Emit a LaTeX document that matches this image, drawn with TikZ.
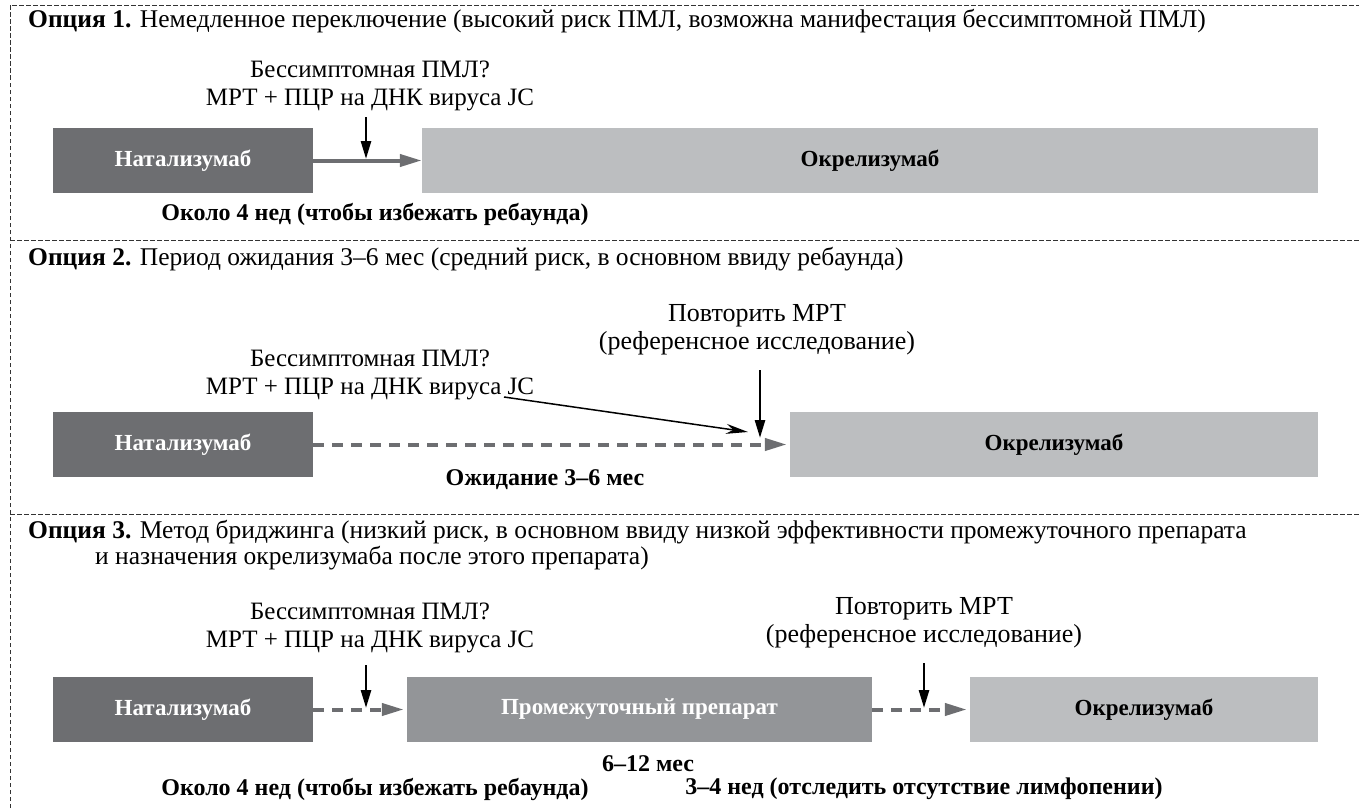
\documentclass[tikz,border=0pt]{standalone}
\usepackage{fontspec}
\setmainfont{Liberation Serif}
\usetikzlibrary{arrows.meta}
\definecolor{dkbox}{HTML}{6D6E71}
\definecolor{mdbox}{HTML}{939598}
\definecolor{ltbox}{HTML}{BCBEC0}
\tikzset{
  frameline/.style={line width=0.9pt, black!80, dash pattern=on 4.5pt off 2.5pt},
  drugbox/.style={rectangle, draw=none, inner sep=0pt, minimum height=65pt,
    font=\fontsize{23}{28}\selectfont\bfseries},
  darkbox/.style={drugbox, fill=dkbox, text=white},
  midbox/.style={drugbox, fill=mdbox, text=white},
  lightbox/.style={drugbox, fill=ltbox, text=black},
  lbl/.style={inner sep=0pt, align=center, font=\fontsize{25}{28}\selectfont},
  rlbl/.style={inner sep=0pt, align=center, font=\fontsize{26}{28}\selectfont},
  blbl/.style={inner sep=0pt, font=\fontsize{24}{28}\selectfont\bfseries},
  ttl/.style={inner sep=0pt, anchor=base west, font=\fontsize{25.5}{28}\selectfont},
  solidgo/.style={line width=4pt, dkbox, -{Triangle[length=22pt,width=12pt]}},
  dashgo/.style={line width=4pt, dkbox, dash pattern=on 11pt off 8pt, -{Triangle[length=22pt,width=12pt]}, shorten >=3pt},
  downarr/.style={line width=2.6pt, black, -{Triangle[length=18pt,width=10pt]}},
  thinarr/.style={line width=1.5pt, black, -{Stealth[length=22pt,width=10pt]}},
}
\begin{document}
\begin{tikzpicture}[x=1pt,y=-1pt]
\useasboundingbox (0,0) rectangle (1359,808);
% frame
\draw[frameline] (10,808) -- (10,5) -- (1359,5);
\draw[frameline] (10,240) -- (1359,240);
\draw[frameline] (10,514) -- (1359,514);

% ---------- Option 1
\node[ttl] (t1) at (28,28) {\textbf{Опция 1.} Немедленное переключение (высокий риск ПМЛ, возможна манифестация бессимптомной ПМЛ)};
\node[darkbox, minimum width=260pt] (n1) at (183,160.5) {Натализумаб};
\node[lightbox, minimum width=896pt] (o1) at (870,160.5) {Окрелизумаб};
\node[lbl] (q1) at (370,86) {Бессимптомная ПМЛ?\\МРТ + ПЦР на ДНК вируса JC};
\coordinate (d1t) at (366,117);
\coordinate (d1b) at (366,159);
\draw[solidgo] (n1.east) -- (o1.west);
\draw[downarr] (d1t) -- (d1b);
\node[blbl] (w1) at (375,214) {Около 4 нед (чтобы избежать ребаунда)};

% ---------- Option 2
\node[ttl] (t2) at (28,265) {\textbf{Опция 2.} Период ожидания 3–6 мес (средний риск, в основном ввиду ребаунда)};
\node[darkbox, minimum width=260pt] (n2) at (183,444.5) {Натализумаб};
\node[lightbox, minimum width=528pt] (o2) at (1054,444.5) {Окрелизумаб};
\node[lbl] (q2) at (370,375) {Бессимптомная ПМЛ?\\МРТ + ПЦР на ДНК вируса JC};
\node[rlbl] (r2) at (757,330) {Повторить МРТ\\(референсное исследование)};
\coordinate (s2a) at (504,397);
\coordinate (s2b) at (748,432);
\coordinate (d2t) at (760,370);
\coordinate (d2b) at (760,438);
\draw[dashgo] (n2.east) -- (o2.west);
\draw[thinarr] (s2a) -- (s2b);
\draw[downarr] (d2t) -- (d2b);
\node[blbl] (w2) at (545,480) {Ожидание 3–6 мес};

% ---------- Option 3
\node[ttl] (t3) at (28,538) {\textbf{Опция 3.} Метод бриджинга (низкий риск, в основном ввиду низкой эффективности промежуточного препарата};
\node[ttl] (t3b) at (95,564) {и назначения окрелизумаба после этого препарата)};
\node[darkbox, minimum width=260pt] (n3) at (183,709.5) {Натализумаб};
\node[midbox, minimum width=465pt] (p3) at (639.5,709.5) {Промежуточный препарат};
\node[lightbox, minimum width=348pt] (o3) at (1144,709.5) {Окрелизумаб};
\node[lbl] (q3) at (370,628) {Бессимптомная ПМЛ?\\МРТ + ПЦР на ДНК вируса JC};
\node[rlbl] (r3) at (924,623) {Повторить МРТ\\(референсное исследование)};
\coordinate (d3t) at (366,665);
\coordinate (d3b) at (366,708);
\coordinate (e3t) at (924,663);
\coordinate (e3b) at (924,708);
\draw[dashgo] (n3.east) -- (p3.west);
\draw[dashgo] (p3.east) -- (o3.west);
\draw[downarr] (d3t) -- (d3b);
\draw[downarr] (e3t) -- (e3b);
\node[blbl] (w3a) at (648,764) {6–12 мес};
\node[blbl] (w3b) at (375,789) {Около 4 нед (чтобы избежать ребаунда)};
\node[blbl] (w3c) at (924,789) {3–4 нед (отследить отсутствие лимфопении)};
\end{tikzpicture}
\end{document}
